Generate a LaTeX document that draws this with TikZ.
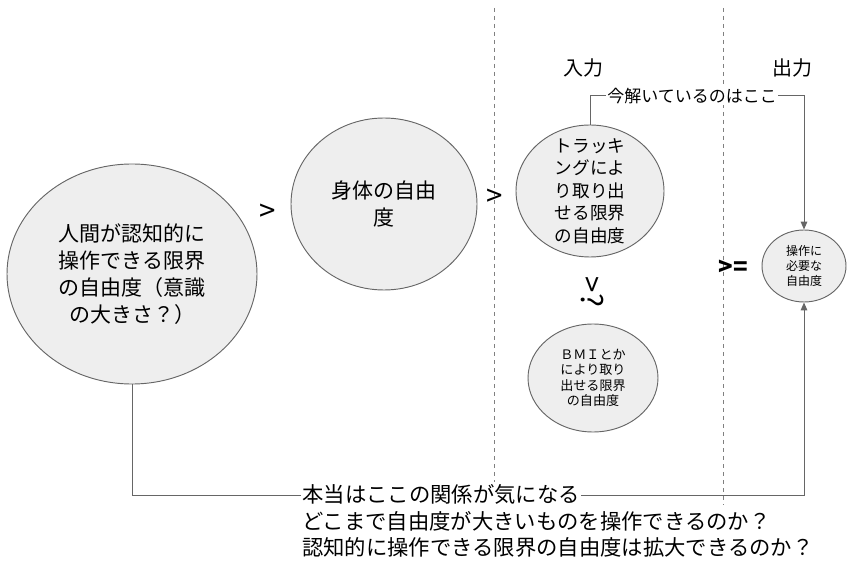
\documentclass[tikz,border=0pt]{standalone}
\usepackage{fontspec}
\setmainfont{Noto Sans CJK JP}
\usetikzlibrary{arrows.meta,shapes.geometric}
\definecolor{linegray}{HTML}{666666}
\definecolor{dashgray}{HTML}{808080}
\definecolor{bubblefill}{HTML}{EEEEEE}
\begin{document}
\begin{tikzpicture}[x=0.75pt,y=-0.75pt,
  bubble/.style={ellipse, draw=linegray, fill=bubblefill, line width=0.7pt, inner sep=0pt},
  bigtxt/.style={font=\fontsize{15.75}{20.3}\selectfont, align=center, inner sep=0pt},
  midtxt/.style={font=\fontsize{13.2}{16.9}\selectfont, align=center, inner sep=0pt},
  smalltxt/.style={font=\fontsize{9.8}{11.6}\selectfont, align=center, inner sep=0pt},
  tinytxt/.style={font=\fontsize{9}{11.2}\selectfont, align=center, inner sep=0pt},
  conn/.style={draw=linegray, line width=0.75pt},
  arrowconn/.style={conn, -{Triangle[length=6pt,width=5pt]}},
  dashline/.style={draw=dashgray, line width=0.75pt, dash pattern=on 3pt off 3pt},
  sym/.style={font=\fontsize{22}{24}\selectfont, inner sep=0pt},
  toptxt/.style={font=\fontsize{15}{18}\selectfont, inner sep=0pt}
]
\useasboundingbox (0,0) rectangle (860,570);

% dashed separators
\coordinate (d1a) at (494,8);
\coordinate (d1b) at (494,482);
\coordinate (d2a) at (723,8);
\coordinate (d2b) at (723,505);
\draw[dashline] (d1a) -- (d1b);
\draw[dashline] (d2a) -- (d2b);

% headings
\node[toptxt] (inlbl) at (583,68) {入力};
\node[toptxt] (outlbl) at (792,68) {出力};

% bubbles
\node[bubble, minimum width=187.5pt, minimum height=165pt] (e1) at (132,274) {};
\node[bigtxt] (t1) at (e1.center) {人間が認知的に\\操作できる限界\\の自由度（意識\\の大きさ？）};

\node[bubble, minimum width=139.5pt, minimum height=129pt] (e2) at (384,204) {};
\node[bigtxt] (t2) at (e2.center) {身体の自由\\度};

\node[bubble, minimum width=111pt, minimum height=99pt] (e3) at (590,191) {};
\node[midtxt] (t3) at (e3.center) {トラッキ\\ングによ\\り取り出\\せる限界\\の自由度};

\node[bubble, minimum width=97.5pt, minimum height=81pt] (e4) at (593,378) {};
\node[smalltxt] (t4) at (e4.center) {ＢＭＩとか\\により取り\\出せる限界\\の自由度};

\node[bubble, minimum width=63pt, minimum height=54pt] (e5) at (804,266) {};
\node[tinytxt] (t5) at (e5.center) {操作に\\必要な\\自由度};

% comparison symbols
\node[sym] (g1) at (268,213) {>};
\node[sym] (g2) at (495,198) {>};
\node[sym, rotate=-90] (g3) at (592,292) {>?};
\node[sym, font=\fontsize{18}{20}\selectfont\bfseries] (g4) at (733,268) {>=};

% top connector
\coordinate (tl) at (590,96);
\coordinate (tr) at (804,96);
\draw[arrowconn] (e3.north) -- (tl) -- (tr) -- (e5.north);
\node[font=\fontsize{12.75}{15}\selectfont, fill=white, inner sep=1pt] (toplbl) at (692,96) {今解いているのはここ};

% bottom connector
\coordinate (bl) at (132,495);
\coordinate (br) at (804,495);
\draw[arrowconn] (e1.south) -- (bl) -- (br) -- (e5.south);
\node[font=\fontsize{16}{19.5}\selectfont, fill=white, inner sep=1pt, anchor=west] (botlbl) at (301,494) {本当はここの関係が気になる};
\node[font=\fontsize{16}{19.5}\selectfont, inner sep=0pt, anchor=west, align=left] (botq) at (302,534) {どこまで自由度が大きいものを操作できるのか？\\認知的に操作できる限界の自由度は拡大できるのか？};
\end{tikzpicture}
\end{document}
